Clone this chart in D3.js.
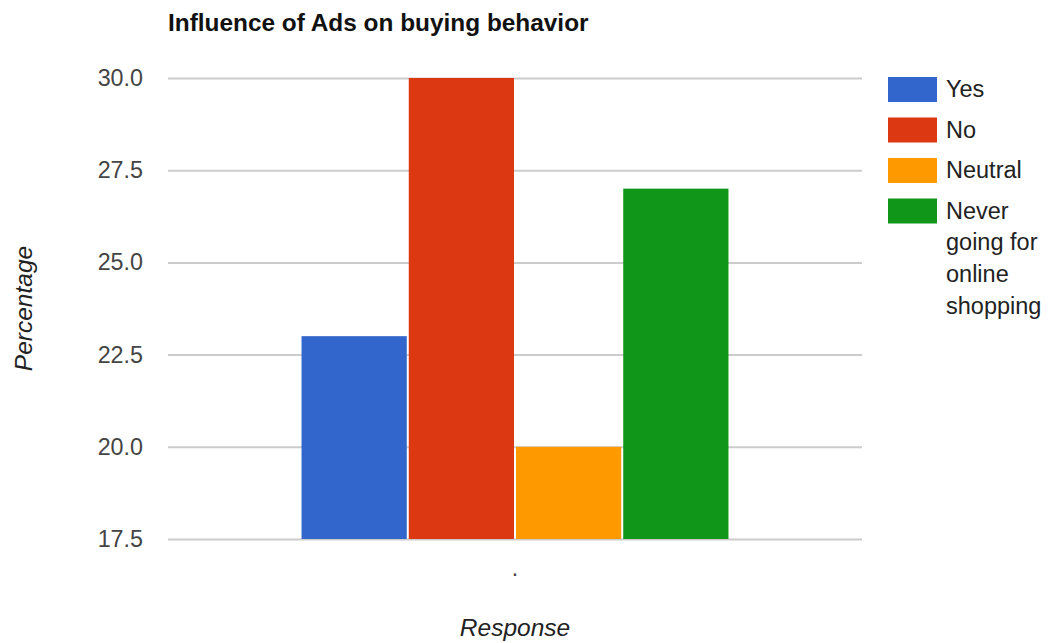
<!DOCTYPE html>
<html>
<head>
<meta charset="utf-8">
<script src="https://cdn.jsdelivr.net/npm/d3@7"></script>
<style>
  html, body { margin: 0; padding: 0; background: #fff; }
  svg { display: block; font-family: "Liberation Sans", Arial, sans-serif; }
</style>
</head>
<body>
<svg id="chart" width="1050" height="643"></svg>
<script>
// Survey responses on how ads influence buying behavior
const categories = ["."];
const seriesNames = ["Yes", "No", "Neutral", "Never going for online shopping"];
const seriesValues = [23, 30, 20, 27];
const seriesColors = ["#3366cc", "#dc3912", "#ff9900", "#109618"];
const yTicks = [17.5, 20, 22.5, 25, 27.5, 30];
const legendLines = [["Yes"], ["No"], ["Neutral"], ["Never", "going for", "online", "shopping"]];

const svg = d3.select("#chart");
const plot = { left: 168, right: 862, top: 78, bottom: 539 };

const y = d3.scaleLinear().domain([17.5, 30]).range([plot.bottom, plot.top]);
const x0 = d3.scaleBand().domain(categories).range([plot.left, plot.right])
  .paddingInner(0).paddingOuter(0.309);
const x1 = d3.scaleBand().domain(seriesNames).range([0, x0.bandwidth()]).padding(0);

// Title
svg.append("text")
  .attr("x", plot.left).attr("y", 31)
  .attr("font-size", 24.4).attr("font-weight", "bold").attr("fill", "#111")
  .text("Influence of Ads on buying behavior");

// Gridlines and y tick labels
const yAxis = d3.axisLeft(y).tickValues(yTicks).tickFormat(d3.format(".1f"))
  .tickSize(-(plot.right - plot.left)).tickPadding(25);
const gy = svg.append("g").attr("transform", `translate(${plot.left},0)`).call(yAxis);
gy.select(".domain").remove();
gy.selectAll(".tick line").attr("stroke", "#cccccc").attr("stroke-width", 2);
gy.selectAll(".tick text").attr("font-size", 23.3).attr("fill", "#444")
  .attr("font-family", "Liberation Sans, Arial, sans-serif");

// Bars
const group = svg.append("g").selectAll("g").data(categories).join("g")
  .attr("transform", d => `translate(${x0(d)},0)`);
group.selectAll("rect")
  .data(seriesNames.map((name, i) => ({ name, value: seriesValues[i], color: seriesColors[i] })))
  .join("rect")
  .attr("x", d => x1(d.name) + 1)
  .attr("width", x1.bandwidth() - 2)
  .attr("y", d => y(d.value))
  .attr("height", d => y(17.5) - y(d.value))
  .attr("fill", d => d.color);

// Category axis label
const xAxis = d3.axisBottom(x0).tickSize(0).tickPadding(21);
const gx = svg.append("g").attr("transform", `translate(0,${plot.bottom})`).call(xAxis);
gx.select(".domain").remove();
gx.selectAll(".tick text").attr("font-size", 23).attr("fill", "#444")
  .attr("font-family", "Liberation Sans, Arial, sans-serif");

// Axis titles
svg.append("text")
  .attr("x", (plot.left + plot.right) / 2).attr("y", 636)
  .attr("text-anchor", "middle").attr("font-size", 24.5).attr("font-style", "italic")
  .attr("fill", "#222").text("Response");
svg.append("text")
  .attr("transform", `translate(32,${(plot.top + plot.bottom) / 2}) rotate(-90)`)
  .attr("text-anchor", "middle").attr("font-size", 24.5).attr("font-style", "italic")
  .attr("fill", "#222").text("Percentage");

// Legend
const legend = svg.append("g").attr("transform", "translate(888,77)");
const items = legend.selectAll("g").data(seriesNames).join("g")
  .attr("transform", (d, i) => `translate(0,${i * 40.5})`);
items.append("rect").attr("width", 49).attr("height", 25)
  .attr("fill", (d, i) => seriesColors[i]);
items.append("text").attr("x", 58).attr("y", 20)
  .attr("font-size", 23.5).attr("fill", "#222")
  .selectAll("tspan").data((d, i) => legendLines[i]).join("tspan")
  .attr("x", 58).attr("dy", (d, j) => j === 0 ? 0 : 31.7).text(d => d);
</script>
</body>
</html>
